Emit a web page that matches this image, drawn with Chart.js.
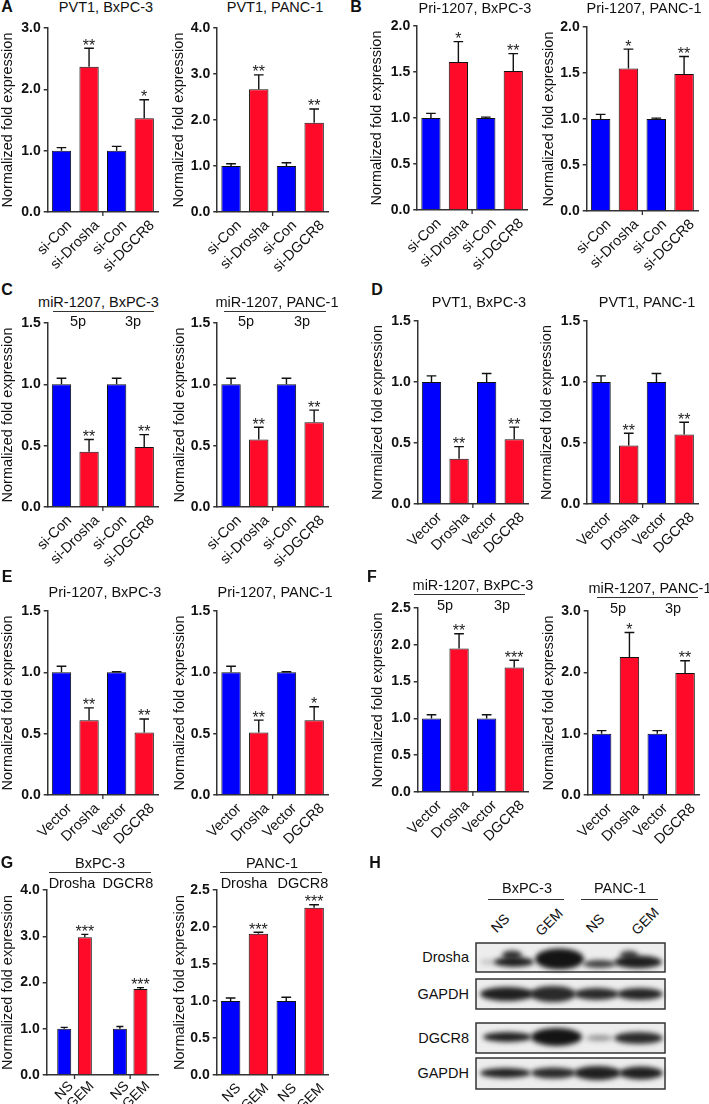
<!DOCTYPE html>
<html>
<head>
<meta charset="utf-8">
<script src="https://cdn.jsdelivr.net/npm/chart.js@4.4.1/dist/chart.umd.min.js"></script>
<style>
  body { margin: 0; background: #fff; width: 709px; height: 1104px; position: relative; overflow: hidden;
         font-family: "Liberation Sans", Arial, sans-serif; color: #111; }
  .t { position: absolute; white-space: nowrap; transform: translate(-50%, -50%); font-size: 14.5px; line-height: 1; }
  .let { font-weight: bold; font-size: 16px; }
  .r { transform: translate(-100%, -50%); font-size: 14.5px; }
  .rot { transform: translate(-50%, -50%) rotate(-45deg); font-size: 14px; }
  .rule { position: absolute; height: 0; border-top: 1.4px solid #333; }
  canvas { position: absolute; }
</style>
</head>
<body>

<script>
// ---- categories ----
const siLabels = ['si-Con', 'si-Drosha', 'si-Con', 'si-DGCR8'];
const vecLabels = ['Vector', 'Drosha', 'Vector', 'DGCR8'];
const gemLabels = ['NS', 'GEM', 'NS', 'GEM'];
const gemGroups = ['Drosha', 'DGCR8'];

// ---- values (mean) / error (SD) / significance ----
// A: PVT1 after si-Drosha / si-DGCR8
const pvt1BxSi = [1.00, 2.37, 1.00, 1.53];
const pvt1BxSiErr = [0.05, 0.30, 0.07, 0.30];
const pvt1BxSiSig = ['', '**', '', '*'];
const pvt1PaSi = [1.00, 2.67, 1.00, 1.94];
const pvt1PaSiErr = [0.05, 0.31, 0.07, 0.30];
const pvt1PaSiSig = ['', '**', '', '**'];
// B: Pri-1207
const priBxSi = [1.00, 1.61, 1.00, 1.51];
const priBxSiErr = [0.05, 0.22, 0.01, 0.19];
const priBxSiSig = ['', '*', '', '**'];
const priPaSi = [1.00, 1.55, 1.00, 1.49];
const priPaSiErr = [0.05, 0.21, 0.01, 0.19];
const priPaSiSig = ['', '*', '', '**'];
// C: miR-1207
const mirBxSi = [1.00, 0.45, 1.00, 0.49];
const mirBxSiErr = [0.05, 0.10, 0.05, 0.10];
const mirBxSiSig = ['', '**', '', '**'];
const mirPaSi = [1.00, 0.55, 1.00, 0.69];
const mirPaSiErr = [0.05, 0.10, 0.05, 0.10];
const mirPaSiSig = ['', '**', '', '**'];
// D: PVT1 after overexpression
const pvt1BxVec = [1.00, 0.37, 1.00, 0.53];
const pvt1BxVecErr = [0.05, 0.10, 0.07, 0.10];
const pvt1BxVecSig = ['', '**', '', '**'];
const pvt1PaVec = [1.00, 0.48, 1.00, 0.57];
const pvt1PaVecErr = [0.05, 0.10, 0.07, 0.10];
const pvt1PaVecSig = ['', '**', '', '**'];
// E: Pri-1207 after overexpression
const priBxVec = [1.00, 0.61, 1.00, 0.51];
const priBxVecErr = [0.05, 0.10, 0.005, 0.11];
const priBxVecSig = ['', '**', '', '**'];
const priPaVec = [1.00, 0.51, 1.00, 0.61];
const priPaVecErr = [0.05, 0.10, 0.005, 0.11];
const priPaVecSig = ['', '**', '', '*'];
// F: miR-1207 after overexpression
const mirBxVec = [1.00, 1.95, 1.00, 1.69];
const mirBxVecErr = [0.05, 0.20, 0.05, 0.10];
const mirBxVecSig = ['', '**', '', '***'];
const mirPaVec = [1.00, 2.25, 1.00, 1.99];
const mirPaVecErr = [0.05, 0.40, 0.05, 0.20];
const mirPaVecSig = ['', '*', '', '**'];
// G: Drosha / DGCR8 after GEM
const gemBx = [1.00, 2.98, 1.00, 1.86];
const gemBxErr = [0.03, 0.06, 0.05, 0.03];
const gemBxSig = ['', '***', '', '***'];
const gemPa = [1.00, 1.91, 1.00, 2.26];
const gemPaErr = [0.04, 0.02, 0.05, 0.04];
const gemPaSig = ['', '***', '', '***'];

const BLUE = '#0000ff';
const RED = '#ff0a28';
const AXIS = '#333';
const INK = '#111';
Chart.defaults.font.family = '"Liberation Sans", Arial, sans-serif';
Chart.defaults.color = INK;

// where each small chart sits on the page
const panels = [
  { labels: siLabels, v: pvt1BxSi, e: pvt1BxSiErr, s: pvt1BxSiSig, max: 3, step: 1, tx: 8, ax: 48, rx: 158, ty: 28, zy: 212 },
  { labels: siLabels, v: pvt1PaSi, e: pvt1PaSiErr, s: pvt1PaSiSig, max: 4, step: 1, tx: 179, ax: 217.5, rx: 328.5, ty: 28, zy: 212 },
  { labels: siLabels, v: priBxSi, e: priBxSiErr, s: priBxSiSig, max: 2, step: 0.5, tx: 377, ax: 417.5, rx: 527, ty: 26, zy: 210 },
  { labels: siLabels, v: priPaSi, e: priPaSiErr, s: priPaSiSig, max: 2, step: 0.5, tx: 549, ax: 587, rx: 698, ty: 27, zy: 211 },
  { labels: siLabels, v: mirBxSi, e: mirBxSiErr, s: mirBxSiSig, max: 1.5, step: 0.5, tx: 8, ax: 48, rx: 158, ty: 323, zy: 507 },
  { labels: siLabels, v: mirPaSi, e: mirPaSiErr, s: mirPaSiSig, max: 1.5, step: 0.5, tx: 180, ax: 217.5, rx: 328.5, ty: 323, zy: 507 },
  { labels: vecLabels, v: pvt1BxVec, e: pvt1BxVecErr, s: pvt1BxVecSig, max: 1.5, step: 0.5, tx: 378, ax: 418, rx: 528, ty: 321, zy: 504 },
  { labels: vecLabels, v: pvt1PaVec, e: pvt1PaVecErr, s: pvt1PaVecSig, max: 1.5, step: 0.5, tx: 547, ax: 587.5, rx: 698.5, ty: 321, zy: 504 },
  { labels: vecLabels, v: priBxVec, e: priBxVecErr, s: priBxVecSig, max: 1.5, step: 0.5, tx: 8, ax: 48, rx: 158, ty: 611, zy: 795 },
  { labels: vecLabels, v: priPaVec, e: priPaVecErr, s: priPaVecSig, max: 1.5, step: 0.5, tx: 180, ax: 217.5, rx: 328.5, ty: 611, zy: 795 },
  { labels: vecLabels, v: mirBxVec, e: mirBxVecErr, s: mirBxVecSig, max: 2.5, step: 0.5, tx: 378, ax: 418, rx: 528, ty: 608, zy: 792 },
  { labels: vecLabels, v: mirPaVec, e: mirPaVecErr, s: mirPaVecSig, max: 3, step: 1, tx: 549, ax: 588, rx: 699, ty: 611, zy: 795 },
  { labels: gemLabels, v: gemBx, e: gemBxErr, s: gemBxSig, max: 4, step: 1, tx: 8, ax: 47, rx: 158, ty: 890, zy: 1075, grouped: true },
  { labels: gemLabels, v: gemPa, e: gemPaErr, s: gemPaSig, max: 2.5, step: 0.5, tx: 180, ax: 217, rx: 328, ty: 890, zy: 1075 }
];

// error whiskers, stars, the little tick under the x axis, and per-bar labels for grouped panel
const errBars = {
  id: 'errBars',
  afterDatasetsDraw(chart) {
    const ctx = chart.ctx;
    const ys = chart.scales.y, xs = chart.scales.x;
    const p = chart.options.plugins.errBars;
    ctx.save();
    chart.data.datasets.forEach((ds, d) => {
      chart.getDatasetMeta(d).data.forEach((bar, i) => {
        const top = ys.getPixelForValue(ds.data[i] + ds.errs[i]);
        const cap = bar.width * 0.25;
        ctx.strokeStyle = INK;
        ctx.lineWidth = 1.4;
        ctx.beginPath();
        ctx.moveTo(bar.x, bar.y);
        ctx.lineTo(bar.x, top);
        ctx.moveTo(bar.x - cap, top);
        ctx.lineTo(bar.x + cap, top);
        ctx.stroke();
        if (ds.sig[i]) {
          ctx.fillStyle = '#222';
          ctx.font = '16px "Liberation Sans", Arial';
          ctx.textAlign = 'center';
          ctx.textBaseline = 'alphabetic';
          ctx.fillText(ds.sig[i], bar.x, top + 2.5);
        }
      });
    });
    const y0 = chart.chartArea.bottom;
    ctx.strokeStyle = AXIS;
    ctx.lineWidth = 1.3;
    ctx.beginPath();
    if (p.grouped) {
      for (let i = 0; i < chart.data.labels.length; i++) {
        const x = xs.getPixelForTick(i);
        ctx.moveTo(x, y0); ctx.lineTo(x, y0 + 4);
      }
    } else {
      const bars = chart.getDatasetMeta(0).data;
      const x = (bars[1].x + bars[2].x) / 2;
      ctx.moveTo(x, y0); ctx.lineTo(x, y0 + 4);
    }
    ctx.stroke();
    if (p.grouped) {
      ctx.fillStyle = INK;
      ctx.font = '14px "Liberation Sans", Arial';
      ctx.textAlign = 'right';
      ctx.textBaseline = 'middle';
      chart.data.datasets.forEach((ds, d) => {
        chart.getDatasetMeta(d).data.forEach((bar, i) => {
          ctx.save();
          ctx.translate(bar.x + 7, y0 + 9);
          ctx.rotate(-Math.PI / 4);
          ctx.fillText(ds.barLabels[i], 0, 0);
          ctx.restore();
        });
      });
    }
    ctx.restore();
  }
};

function build(c) {
  const left = c.tx - 8.7;
  const top = c.ty - 12;
  const right = c.rx + 6;
  const bottom = c.zy + 66;
  const w = Math.round(right - left), h = Math.round(bottom - top);
  const cv = document.createElement('canvas');
  cv.width = w; cv.height = h;
  cv.style.left = left + 'px'; cv.style.top = top + 'px';
  cv.style.width = w + 'px'; cv.style.height = h + 'px';
  document.body.appendChild(cv);

  let labels, datasets;
  if (c.grouped) {
    labels = gemGroups;
    datasets = [0, 1].map(k => ({
      data: [c.v[k], c.v[k + 2]],
      errs: [c.e[k], c.e[k + 2]],
      sig: [c.s[k], c.s[k + 2]],
      barLabels: [c.labels[k], c.labels[k + 2]],
      backgroundColor: k === 0 ? BLUE : RED,
      borderColor: INK, borderWidth: 1,
      categoryPercentage: 0.74, barPercentage: 0.68
    }));
  } else {
    labels = c.labels;
    datasets = [{
      data: c.v, errs: c.e, sig: c.s,
      backgroundColor: c.v.map((_, i) => i % 2 ? RED : BLUE),
      borderColor: INK, borderWidth: 1,
      categoryPercentage: 1, barPercentage: 0.7
    }];
  }

  new Chart(cv, {
    type: 'bar',
    data: { labels, datasets },
    options: {
      responsive: false, animation: false, devicePixelRatio: 1,
      layout: { padding: { top: c.ty - top, right: right - c.rx, left: 0, bottom: 0 } },
      plugins: { legend: { display: false }, tooltip: { enabled: false }, errBars: { grouped: !!c.grouped } },
      scales: {
        x: {
          grid: { display: false, drawTicks: false },
          border: { color: AXIS, width: 1.5 },
          ticks: { display: !c.grouped, font: { size: c.labels === gemLabels ? 14 : 14.5 }, minRotation: 45, maxRotation: 45,
                   autoSkip: false, padding: 5, labelOffset: 8 },
          afterFit: s => { s.height = bottom - c.zy; }
        },
        y: {
          min: 0, max: c.max,
          ticks: { stepSize: c.step, callback: v => v.toFixed(1), font: { size: 14, weight: 'bold' }, padding: 3 },
          grid: { drawOnChartArea: false, tickLength: 4, color: AXIS, lineWidth: 1.5 },
          border: { color: AXIS, width: 1.5 },
          title: { display: true, text: 'Normalized fold expression', font: { size: 14.5 }, padding: 0 },
          afterFit: s => { s.width = c.ax - left; }
        }
      }
    },
    plugins: [errBars]
  });
}

panels.forEach(build);

// ---- text: panel letters, titles, group rules ----
function txt(s, x, y, cls) {
  const d = document.createElement('div');
  d.className = 't' + (cls ? ' ' + cls : '');
  d.textContent = s;
  d.style.left = x + 'px'; d.style.top = y + 'px';
  document.body.appendChild(d);
}
function rule(x1, x2, y) {
  const d = document.createElement('div');
  d.className = 'rule';
  d.style.left = x1 + 'px'; d.style.top = y + 'px'; d.style.width = (x2 - x1) + 'px';
  document.body.appendChild(d);
}

[['A', 7, 7], ['B', 356, 7], ['C', 7, 290], ['D', 377, 290], ['E', 7, 577], ['F', 372, 577], ['G', 7, 863], ['H', 375, 863]]
  .forEach(([s, x, y]) => txt(s, x, y, 'let'));

txt('PVT1, BxPC-3', 106, 7); txt('PVT1, PANC-1', 275, 7);
txt('Pri-1207, BxPC-3', 475, 8); txt('Pri-1207, PANC-1', 644, 8);
txt('miR-1207, BxPC-3', 98.5, 302); rule(53, 154, 311); txt('5p', 78, 321); txt('3p', 133, 321);
txt('miR-1207, PANC-1', 277, 302); rule(224, 326, 311); txt('5p', 246, 321); txt('3p', 302, 321);
txt('PVT1, BxPC-3', 479, 302); txt('PVT1, PANC-1', 647, 302);
txt('Pri-1207, BxPC-3', 105, 592); txt('Pri-1207, PANC-1', 275, 592);
txt('miR-1207, BxPC-3', 473, 585); rule(414, 525, 594); txt('5p', 445, 605); txt('3p', 502, 605);
txt('miR-1207, PANC-1', 650, 588); rule(597, 698, 597); txt('5p', 618, 608); txt('3p', 673, 608);
txt('BxPC-3', 100, 863); rule(49, 151, 872); txt('Drosha', 72, 883); txt('DGCR8', 128, 883);
txt('PANC-1', 272, 863); rule(220, 322, 872); txt('Drosha', 244, 883); txt('DGCR8', 303, 883);

// ---- H: western blot ----
txt('BxPC-3', 527, 888); rule(488, 564, 899);
txt('PANC-1', 620, 888); rule(581, 658, 899);
txt('NS', 500, 923, 'rot'); txt('GEM', 549, 922, 'rot'); txt('NS', 595, 923, 'rot'); txt('GEM', 645, 921, 'rot');
txt('Drosha', 469, 957, 'r'); txt('GAPDH', 469, 994, 'r'); txt('DGCR8', 469, 1038, 'r'); txt('GAPDH', 469, 1073, 'r');

(function blot() {
  const ox = 470, oy = 935;
  const cv = document.createElement('canvas');
  cv.width = 200; cv.height = 160;
  cv.style.left = ox + 'px'; cv.style.top = oy + 'px';
  document.body.appendChild(cv);
  const ctx = cv.getContext('2d');
  const boxes = [[943, 972], [979, 1009], [1023, 1053], [1058, 1089]];
  // [row, x1, x2, yc, h, alpha]
  const bands = [
    [0, 480, 498, 962, 5, 0.2],
    [0, 494, 534, 962, 10, 0.95], [0, 502, 522, 955, 9, 0.85],
    [0, 535, 584, 959, 21, 1], [0, 583, 616, 964, 8, 0.8],
    [0, 614, 662, 962, 13, 0.95], [0, 620, 638, 955, 9, 0.75],
    [1, 480, 534, 994, 14, 0.95], [1, 530, 576, 994, 16, 0.9],
    [1, 574, 619, 994, 12, 0.9], [1, 617, 663, 994, 12, 0.92],
    [2, 483, 532, 1037, 10, 0.95], [2, 531, 582, 1037, 18, 1],
    [2, 586, 613, 1038, 6, 0.4], [2, 614, 663, 1038, 12, 0.9],
    [3, 480, 531, 1073, 10, 0.95], [3, 531, 576, 1073, 11, 0.9],
    [3, 574, 621, 1073, 14, 0.95], [3, 619, 663, 1073, 13, 0.95]
  ];
  ctx.fillStyle = '#ededed';
  boxes.forEach(([y1, y2]) => ctx.fillRect(476 - ox, y1 - oy, 189, y2 - y1));
  ctx.filter = 'blur(2.5px)';
  bands.forEach(([r, x1, x2, yc, h, a]) => {
    ctx.fillStyle = 'rgba(20,20,20,' + a + ')';
    ctx.beginPath();
    ctx.ellipse((x1 + x2) / 2 - ox, yc - oy, (x2 - x1) / 2, h / 2, 0, 0, Math.PI * 2);
    ctx.fill();
  });
  ctx.filter = 'none';
  ctx.strokeStyle = '#333';
  ctx.lineWidth = 1.5;
  boxes.forEach(([y1, y2]) => ctx.strokeRect(476 - ox, y1 - oy, 189, y2 - y1));
})();
</script>
</body>
</html>
